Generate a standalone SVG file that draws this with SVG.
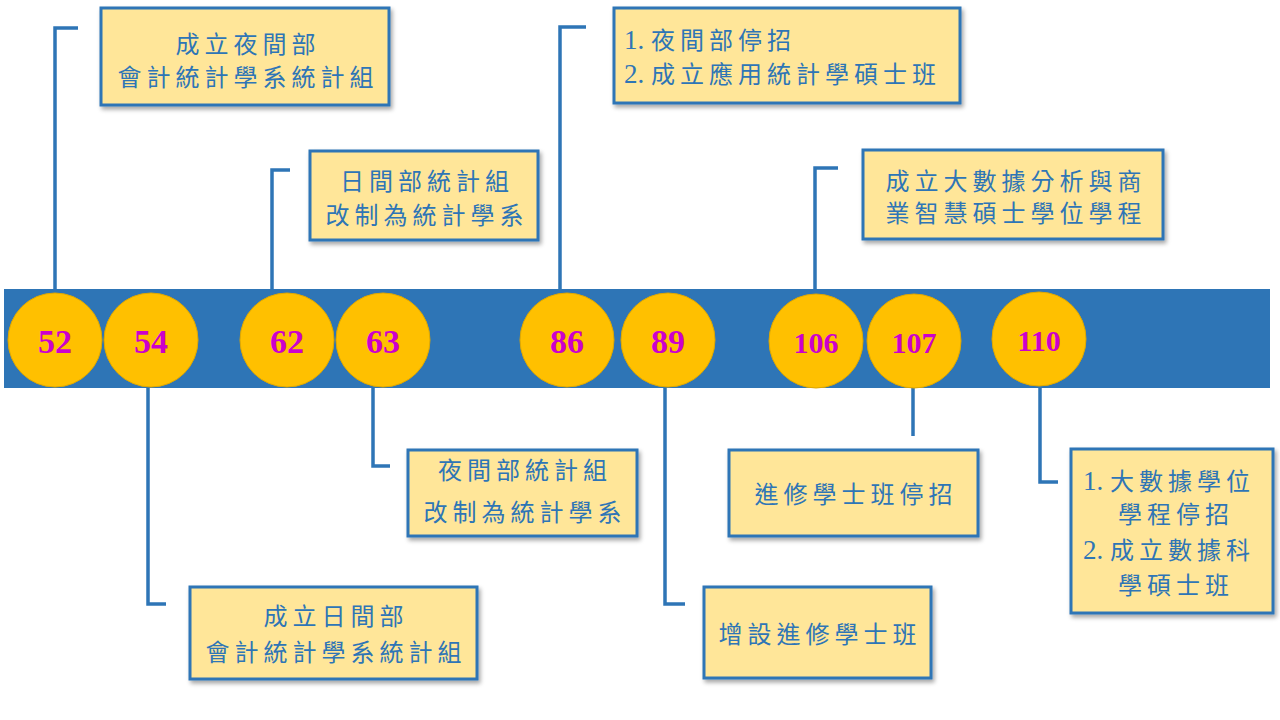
<svg xmlns="http://www.w3.org/2000/svg" width="1280" height="720" viewBox="0 0 1280 720">
<defs>
<filter id="sh" x="-10%" y="-10%" width="125%" height="130%">
<feDropShadow dx="2" dy="3" stdDeviation="2" flood-color="#000" flood-opacity="0.35"/>
</filter>
<style>
.box{fill:#FFE699;stroke:#2E75B6;stroke-width:3;filter:url(#sh)}
.t{font-family:"Noto Sans CJK TC","Noto Sans CJK SC",sans-serif;font-size:24px;fill:#2E75B6;letter-spacing:5px}
.c{text-anchor:middle}
.num{font-family:"Liberation Serif",serif;font-size:27px;letter-spacing:0}
.yr{fill:#FFC000;stroke:#E0A800;stroke-width:1}
.n{font-family:"Liberation Serif",serif;font-weight:bold;font-size:34px;fill:#CC00CC;text-anchor:middle}
.n3{font-size:30px}
.ln{fill:none;stroke:#2E75B6;stroke-width:3.5}
</style>
</defs>
<rect x="4" y="289" width="1266" height="99" fill="#2E75B6"/>
<g id="connectors">
<polyline class="ln" points="55,289 55,28 78,28"/>
<polyline class="ln" points="272,289 272,170 290,170"/>
<polyline class="ln" points="560,289 560,27 586,27"/>
<polyline class="ln" points="815,289 815,168 838,168"/>
<polyline class="ln" points="148,388 148,604 166,604"/>
<polyline class="ln" points="373,388 373,466 390,466"/>
<polyline class="ln" points="665,388 665,604 685,604"/>
<polyline class="ln" points="913,388 913,436"/>
<polyline class="ln" points="1040,388 1040,482 1058,482"/>
</g>
<g id="y52"><circle class="yr" cx="55" cy="340" r="47"/><text class="n" x="55" y="353">52</text></g>
<g id="y54"><circle class="yr" cx="151" cy="340" r="47"/><text class="n" x="151" y="353">54</text></g>
<g id="y62"><circle class="yr" cx="287" cy="340" r="47"/><text class="n" x="287" y="353">62</text></g>
<g id="y63"><circle class="yr" cx="383" cy="340" r="47"/><text class="n" x="383" y="353">63</text></g>
<g id="y86"><circle class="yr" cx="567" cy="340" r="47"/><text class="n" x="567" y="353">86</text></g>
<g id="y89"><circle class="yr" cx="668" cy="340" r="47"/><text class="n" x="668" y="353">89</text></g>
<g id="y106"><circle class="yr" cx="816" cy="341" r="47"/><text class="n n3" x="816" y="353">106</text></g>
<g id="y107"><circle class="yr" cx="914" cy="341" r="47"/><text class="n n3" x="914" y="353">107</text></g>
<g id="y110"><circle class="yr" cx="1039" cy="339" r="47"/><text class="n n3" x="1039" y="351">110</text></g>

<g id="b52"><rect class="box" x="101" y="8" width="288" height="97"/>
<text class="t c" x="248" y="53">成立夜間部</text>
<text class="t c" x="248" y="86">會計統計學系統計組</text></g>
<g id="b62"><rect class="box" x="310" y="151" width="228" height="89"/>
<text class="t c" x="427" y="190">日間部統計組</text>
<text class="t c" x="427" y="224">改制為統計學系</text></g>
<g id="b86"><rect class="box" x="614" y="8" width="346" height="95"/>
<text class="t" x="624" y="49"><tspan class="num">1. </tspan>夜間部停招</text>
<text class="t" x="624" y="83"><tspan class="num">2. </tspan>成立應用統計學碩士班</text></g>
<g id="b106"><rect class="box" x="863" y="150" width="300" height="89"/>
<text class="t c" x="1016" y="190">成立大數據分析與商</text>
<text class="t c" x="1016" y="222">業智慧碩士學位學程</text></g>
<g id="b63"><rect class="box" x="408" y="450" width="229" height="86"/>
<text class="t c" x="525" y="479">夜間部統計組</text>
<text class="t c" x="525" y="521">改制為統計學系</text></g>
<g id="b54"><rect class="box" x="190" y="587" width="287" height="92"/>
<text class="t c" x="336" y="625">成立日間部</text>
<text class="t c" x="336" y="661">會計統計學系統計組</text></g>
<g id="b89"><rect class="box" x="704" y="587" width="227" height="91"/>
<text class="t c" x="820" y="643">增設進修學士班</text></g>
<g id="b107"><rect class="box" x="729" y="450" width="249" height="86"/>
<text class="t c" x="856" y="503">進修學士班停招</text></g>
<g id="b110"><rect class="box" x="1071" y="449" width="202" height="164"/>
<text class="t" x="1083" y="490"><tspan class="num">1. </tspan>大數據學位</text>
<text class="t c" x="1176" y="523">學程停招</text>
<text class="t" x="1083" y="559"><tspan class="num">2. </tspan>成立數據科</text>
<text class="t c" x="1176" y="594">學碩士班</text></g>
</svg>
